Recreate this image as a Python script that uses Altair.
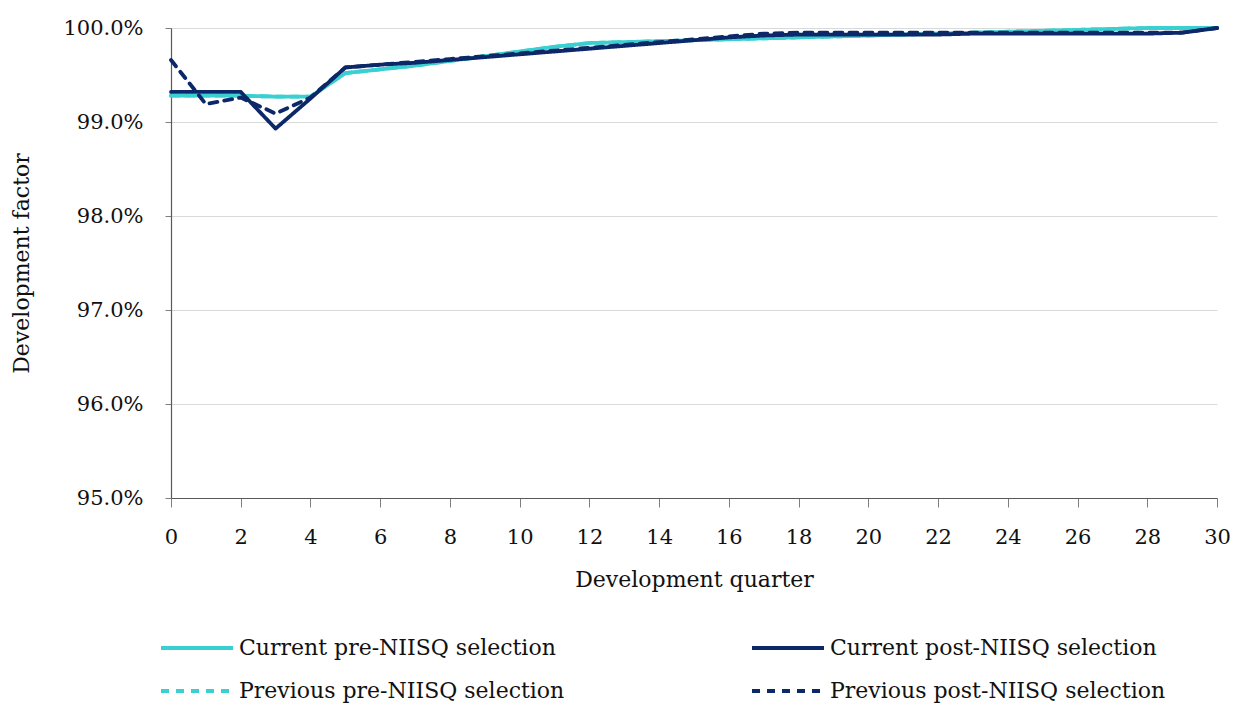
import altair as alt
import pandas as pd

quarters = list(range(0, 31))

current_pre = [99.28, 99.28, 99.28, 99.27, 99.27, 99.52, 99.56, 99.60, 99.65, 99.70,
               99.75, 99.80, 99.84, 99.85, 99.86, 99.87, 99.88, 99.89, 99.90, 99.91,
               99.92, 99.93, 99.94, 99.95, 99.96, 99.97, 99.98, 99.99, 100.0, 100.0, 100.0]
current_post = [99.32, 99.32, 99.32, 98.93, 99.25, 99.58, 99.61, 99.63, 99.66, 99.69,
                99.72, 99.75, 99.78, 99.81, 99.84, 99.87, 99.90, 99.92, 99.93, 99.93,
                99.93, 99.93, 99.93, 99.94, 99.94, 99.94, 99.94, 99.94, 99.94, 99.95, 100.0]
previous_pre = [99.28, 99.28, 99.28, 99.27, 99.27, 99.52, 99.56, 99.60, 99.65, 99.70,
                99.75, 99.80, 99.84, 99.85, 99.86, 99.87, 99.88, 99.89, 99.90, 99.91,
                99.92, 99.93, 99.94, 99.95, 99.96, 99.97, 99.98, 99.99, 100.0, 100.0, 100.0]
previous_post = [99.66, 99.19, 99.26, 99.09, 99.26, 99.58, 99.61, 99.64, 99.67, 99.70,
                 99.73, 99.76, 99.79, 99.82, 99.85, 99.88, 99.91, 99.94, 99.95, 99.95,
                 99.95, 99.95, 99.95, 99.95, 99.95, 99.95, 99.95, 99.95, 99.95, 99.95, 100.0]

series_names = ["Current pre-NIISQ selection", "Current post-NIISQ selection",
                "Previous pre-NIISQ selection", "Previous post-NIISQ selection"]
series_values = [current_pre, current_post, previous_pre, previous_post]
colors = ["#3acfd0", "#0c2868", "#3acfd0", "#0c2868"]
dashes = [[1, 0], [1, 0], [8, 7], [8, 7]]
# legend grid position (column, row) for each series
legend_cells = [(0, 0), (1, 0), (0, 1), (1, 1)]

rows = []
for name, vals in zip(series_names, series_values):
    for q, v in zip(quarters, vals):
        rows.append({"quarter": q, "value": v, "series": name})
df = pd.DataFrame(rows)

FONT = "DejaVu Serif"

x_enc = alt.X("quarter:Q", title="Development quarter",
              scale=alt.Scale(domain=[0, 30], nice=False),
              axis=alt.Axis(values=list(range(0, 31, 2)), grid=False, tickSize=9,
                            labelPadding=19, titlePadding=22, labelFlush=False))
y_enc = alt.Y("value:Q", title="Development factor",
              scale=alt.Scale(domain=[95, 100], nice=False),
              axis=alt.Axis(values=[95, 96, 97, 98, 99, 100], tickSize=6,
                            labelPadding=22, titlePadding=29,
                            labelExpr="format(datum.value, '.1f') + '%'"))


def series_layer(i):
    name = series_names[i]
    col, row = legend_cells[i]
    legend = alt.Legend(
        title=None, orient="none", legendX=-12 + 591 * col, legendY=582 + 43 * row,
        symbolType="stroke", symbolSize=5184, symbolStrokeWidth=4,
        labelFont=FONT, labelFontSize=22, labelColor="#111111",
        labelLimit=500, labelOffset=4,
    )
    return alt.Chart(df).transform_filter(alt.datum.series == name).mark_line(
        strokeWidth=3.8, strokeCap="round", strokeJoin="round"
    ).encode(
        x=x_enc,
        y=y_enc,
        color=alt.Color("series:N", scale=alt.Scale(domain=[name], range=[colors[i]]),
                        legend=legend),
        strokeDash=alt.StrokeDash("series:N",
                                  scale=alt.Scale(domain=[name], range=[dashes[i]]),
                                  legend=legend),
    )


draw_order = [2, 0, 1, 3]
chart = alt.layer(*[series_layer(i) for i in draw_order]).resolve_scale(
    color="independent", strokeDash="independent"
).properties(
    width=1046, height=470,
    autosize=alt.AutoSizeParams(type="none"),
    padding={"left": 163, "top": 20, "right": 14, "bottom": 212},
).configure_view(stroke=None).configure_axis(
    labelFont=FONT, titleFont=FONT, labelFontSize=21, titleFontSize=22,
    labelColor="#111111", titleColor="#111111", titleFontWeight="normal",
    domainColor="#595959", tickColor="#7f7f7f", gridColor="#d9d9d9",
    domainWidth=1.2,
)

chart.save("out.html", embed_options={"renderer": "svg", "actions": False})
